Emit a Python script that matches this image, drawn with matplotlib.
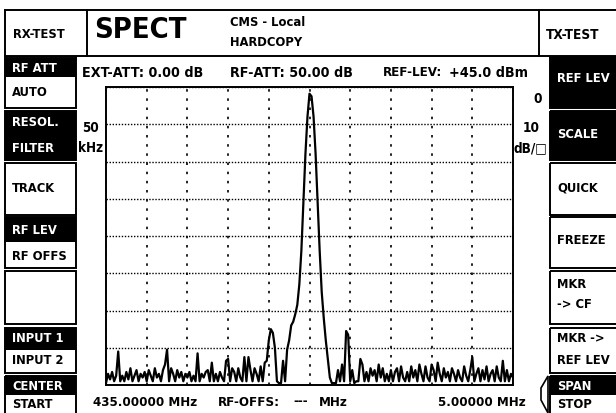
import numpy as np
import matplotlib.pyplot as plt
from matplotlib import font_manager as fm
from matplotlib.patches import Rectangle, Polygon

# Spektrum: 432.5 ... 437.5 MHz, 0.025 MHz Schritt, Pegel relativ zum REF-LEV (dB)
center_mhz = 435.0
span_mhz = 5.0
level_db = [
    -79.5, -77, -78.5, -76.5, -79, -77.5, -71, -79, -77.5, -79,
    -76.5, -78.5, -75.5, -79, -77.5, -76, -79, -77, -78, -76.5,
    -79, -76, -77.5, -79, -75.5, -78, -77, -79, -76, -74.5,
    -70.5, -79, -75.5, -77, -79, -76, -78, -76.5, -79, -77,
    -78, -76.5, -79, -77.5, -79, -71.5, -79, -77, -78, -76.5,
    -76, -79, -74, -79, -77, -79, -76.5, -78, -79, -73.5,
    -73, -79, -75.5, -76.5, -79, -75.5, -78, -79, -72.5, -79,
    -72.5, -76, -79, -75.5, -77, -79, -75, -79, -74, -73.5,
    -68, -65, -66, -70, -79, -79.5, -79.5, -73.5, -79, -70.5,
    -68, -64, -63, -61, -58.5, -53, -44, -31, -18, -8,
    -1.8, -2.5, -8, -18, -31, -44, -55, -62, -68, -73,
    -78, -79.5, -79.5, -79.5, -76, -79, -74.5, -79, -65.5, -66.5,
    -79, -76, -79.5, -79, -79, -73, -74.5, -79, -76.5, -79,
    -75.5, -77.5, -76, -79, -74.5, -78, -75.5, -79, -77, -79,
    -76, -79, -76.5, -75.5, -79, -75, -78, -79, -76.5, -79,
    -75, -78, -76, -79, -74.5, -77, -79, -75, -78, -79,
    -74.5, -76, -79, -74, -77, -79, -75.5, -78, -76.5, -79,
    -75.5, -77, -79, -76, -78, -79, -75, -77.5, -79, -76,
    -72.5, -79, -77, -75.5, -79, -76, -78.5, -75, -79, -77,
    -76, -79, -75, -78, -79, -73.5, -79, -76, -79, -77, -78,
]
freq_mhz = np.linspace(center_mhz - span_mhz / 2, center_mhz + span_mhz / 2, len(level_db))

# Softkeys: (oben, unten, schwarzer Bereich, [(Text, y), ...])
left_buttons = [
    (57, 108, (58, 77), [("RF ATT", 68), ("AUTO", 93)]),
    (111, 160, (111, 160), [("RESOL.", 123), ("FILTER", 148)]),
    (163, 215, None, [("TRACK", 188)]),
    (217, 268, (217, 242), [("RF LEV", 230), ("RF OFFS", 256)]),
    (271, 324, None, []),
    (328, 373, (328, 350), [("INPUT 1", 339), ("INPUT 2", 361)]),
    (376, 416, (376, 395), [("CENTER", 386), ("START", 405)]),
]
right_buttons = [
    (57, 108, (57, 108), [("REF LEV", 78)]),
    (111, 160, (111, 160), [("SCALE", 134)]),
    (163, 215, None, [("QUICK", 188)]),
    (217, 268, None, [("FREEZE", 241)]),
    (271, 324, None, [("MKR", 284), ("-> CF", 305)]),
    (328, 373, None, [("MKR ->", 339), ("REF LEV", 361)]),
    (376, 416, (376, 395), [("SPAN", 386), ("STOP", 405)]),
]

# schmale Schrift, falls vorhanden
FONT = ['DejaVu Sans']
probe = fm.FontProperties(family='DejaVu Sans', stretch='condensed', weight='bold')
if 'condensed' in fm.findfont(probe).lower():
    STRETCH, K = 'condensed', 0.93
else:
    STRETCH, K = 'normal', 0.83

W, H = 616, 413

fig = plt.figure(figsize=(W / 100, H / 100), dpi=100)
ui = fig.add_axes([0, 0, 1, 1])
ui.set_xlim(0, W)
ui.set_ylim(H, 0)
ui.axis('off')


def txt(x, y, s, size=10.5, color='black', **kw):
    ui.text(x, y, s, fontsize=size * K, color=color, family=FONT, fontweight='bold',
            fontstretch=STRETCH, va='center', ha='left', **kw)


# Kopfzeile
ui.plot([5, 539], [10, 10], color='black', lw=1.4)
ui.plot([5, 616], [56, 56], color='black', lw=1.4)
ui.plot([5, 5], [10, 56], color='black', lw=1.4)
ui.plot([87, 87], [10, 56], color='black', lw=1.4)
ui.plot([539, 539], [10, 56], color='black', lw=1.4)
ui.plot([539, 616], [10, 10], color='black', lw=1.4)
txt(13, 35, "RX-TEST", 10)
txt(94, 30, "SPECT", 22.5)
txt(230, 23, "CMS - Local", 10)
txt(230, 43, "HARDCOPY", 10)
txt(546, 35, "TX-TEST", 10.5)


def draw_buttons(buttons, x0, x1):
    for top, bot, black, labels in buttons:
        ui.add_patch(Rectangle((x0, top), x1 - x0, bot - top, fill=False,
                               edgecolor='black', lw=1.4))
        if black is not None:
            ui.add_patch(Rectangle((x0, black[0]), x1 - x0, black[1] - black[0],
                                   color='black', lw=0))
        for lab, y in labels:
            inv = black is not None and black[0] <= y <= black[1]
            txt(x0 + 7, y, lab, 10, color='white' if inv else 'black')


draw_buttons(left_buttons, 5, 76)
draw_buttons(right_buttons, 550, 620)

# Pfeil neben SPAN
ui.add_patch(Polygon([[548, 376], [548, 413], [541, 400], [541, 388]],
                     closed=True, fill=False, edgecolor='black', lw=1.2))

# Statuszeile und Skalenbeschriftung
txt(82, 73, "EXT-ATT: 0.00 dB", 11)
txt(230, 73, "RF-ATT: 50.00 dB", 11)
txt(383, 73, "REF-LEV:", 10.3)
txt(449, 73, "+45.0 dBm", 11)
txt(82, 128, "50")
txt(78, 148, "kHz")
txt(533, 99, "0")
txt(523, 128, "10")
txt(514, 148, "dB/□")
txt(93, 402, "435.00000 MHz", 10.3)
txt(218, 402, "RF-OFFS:", 10.3)
txt(293, 402, "---", 10.3)
txt(319, 402, "MHz", 10.3)
txt(438, 402, "5.00000 MHz", 10.3)

# Spektrum-Diagramm
ax = fig.add_axes([106 / W, (H - 385) / H, 407 / W, 298 / H])
ax.plot(freq_mhz, level_db, color='black', lw=1.6)
ax.set_xlim(center_mhz - span_mhz / 2, center_mhz + span_mhz / 2)
ax.set_ylim(-80, 0)
ax.set_xticks(np.linspace(center_mhz - span_mhz / 2, center_mhz + span_mhz / 2, 11))
ax.set_yticks(np.linspace(-80, 0, 9))
ax.xaxis.grid(True, color='black', linestyle=(0, (1.5, 4)), lw=1.2)
ax.yaxis.grid(True, color='black', linestyle=(0, (1, 1.2)), lw=1.0)
ax.tick_params(length=0, labelbottom=False, labelleft=False)
for s in ax.spines.values():
    s.set_linewidth(1.4)

fig.savefig("out.png", dpi=100)
